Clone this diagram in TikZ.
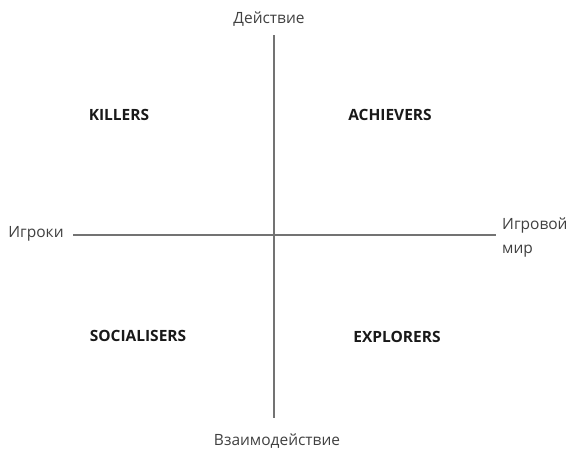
\documentclass[tikz,border=0pt]{standalone}
\usepackage{fontspec}
\setmainfont{Open Sans}
\begin{document}
\begin{tikzpicture}[x=1pt, y=-1pt,
    axis/.style ={draw=black!55, line width=1.6pt},
    pole/.style ={font=\fontsize{15.5}{24}\selectfont, text=black!75, inner sep=1pt},
    player/.style ={font=\fontsize{15.5}{18}\selectfont\bfseries, text=black!90}]
   \useasboundingbox (0,0) rectangle (571,451);
   % axes ends
   \coordinate (N) at (274,35);
   \coordinate (S) at (274,418);
   \coordinate (W) at (73,235);
   \coordinate (E) at (496,235);
   \draw[axis] (N) to (S);
   \draw[axis] (W) to (E);
   % axis labels
   \node[pole] (act) at (269,19) {Действие};
   \node[pole] (inter) at (277,441) {Взаимодействие};
   \node[pole] (pl) at (36,234) {Игроки};
   \node[pole, anchor=west, align=left] (world) at (501,237) {Игровой\\мир};
   % player types
   \node[player] (K) at (119,115) {KILLERS};
   \node[player] (A) at (390,115) {ACHIEVERS};
   \node[player] (So) at (138,336) {SOCIALISERS};
   \node[player] (Ex) at (397,337) {EXPLORERS};
\end{tikzpicture}
\end{document}
